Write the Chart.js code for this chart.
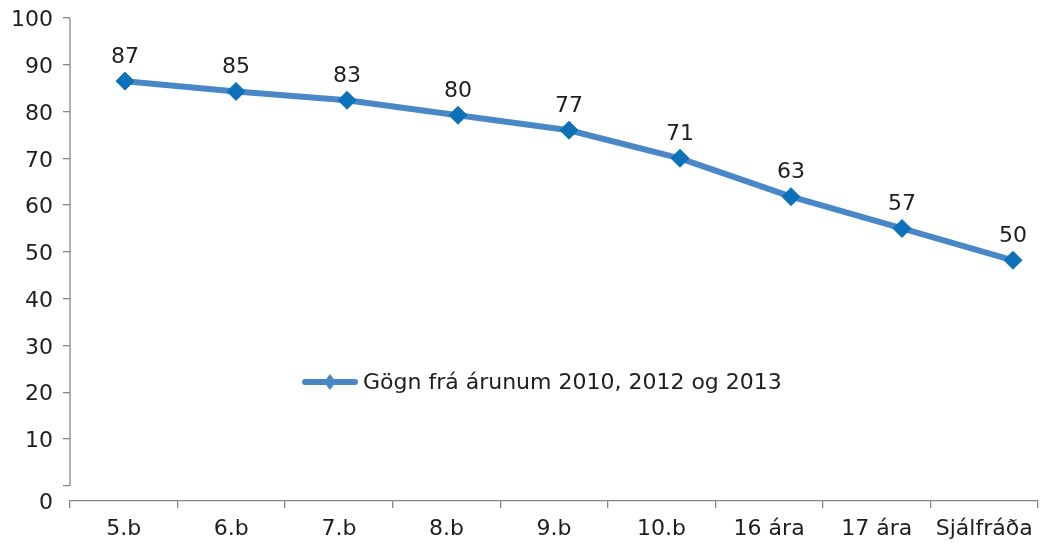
<!DOCTYPE html>
<html>
<head>
<meta charset="utf-8">
<script src="https://cdn.jsdelivr.net/npm/chart.js@4/dist/chart.umd.min.js"></script>
<style>
  html, body { margin: 0; padding: 0; background: #ffffff; }
  #wrap { width: 1043px; height: 547px; }
</style>
</head>
<body>
<div id="wrap"><canvas id="c" width="1043" height="547"></canvas></div>
<script>
// ---- data ----
const categories = ['5.b', '6.b', '7.b', '8.b', '9.b', '10.b', '16 ára', '17 ára', 'Sjálfráða'];
const seriesName = 'Gögn frá árunum 2010, 2012 og 2013';
const seriesValues = [86.5, 84.3, 82.4, 79.2, 76.0, 70.0, 61.8, 55.0, 48.2];
const valueLabels = ['87', '85', '83', '80', '77', '71', '63', '57', '50'];
const yTickValues = [0, 10, 20, 30, 40, 50, 60, 70, 80, 90, 100];

const FONT = '"DejaVu Sans", "Liberation Sans", sans-serif';
const TEXT = '#1e1e1e';
const AXIS = '#868686';
const LINE = '#4a87c6';
const MARK = '#0c71b8';
const Y_BOTTOM = -3.27;   // x-axis sits slightly below the 0 tick

const pts = seriesValues.map((v, i) => ({ x: i, y: v }));

const overlay = {
  id: 'overlay',
  afterDatasetsDraw(chart) {
    const ctx = chart.ctx;
    const y = chart.scales.y;
    // y axis line (stops at 0)
    ctx.save();
    ctx.strokeStyle = AXIS;
    ctx.lineWidth = 1.3;
    ctx.beginPath();
    ctx.moveTo(chart.chartArea.left, y.getPixelForValue(0));
    ctx.lineTo(chart.chartArea.left, y.getPixelForValue(100));
    ctx.stroke();
    // value labels
    const meta = chart.getDatasetMeta(0);
    ctx.font = '22px ' + FONT;
    ctx.fillStyle = TEXT;
    ctx.textAlign = 'center';
    ctx.textBaseline = 'middle';
    meta.data.forEach((p, i) => {
      ctx.fillText(valueLabels[i], p.x, p.y - 24);
    });
    // legend
    const lx = 305, ly = 382;
    ctx.strokeStyle = LINE;
    ctx.lineWidth = 6;
    ctx.lineCap = 'round';
    ctx.beginPath();
    ctx.moveTo(lx, ly);
    ctx.lineTo(lx + 50, ly);
    ctx.stroke();
    ctx.fillStyle = LINE;
    ctx.beginPath();
    ctx.moveTo(lx + 25, ly - 8);
    ctx.lineTo(lx + 31, ly);
    ctx.lineTo(lx + 25, ly + 8);
    ctx.lineTo(lx + 19, ly);
    ctx.closePath();
    ctx.fill();
    ctx.fillStyle = TEXT;
    ctx.textAlign = 'left';
    ctx.fillText(chart.data.datasets[0].label, lx + 58, ly + 1);
    ctx.restore();
  }
};

new Chart(document.getElementById('c'), {
  type: 'line',
  data: {
    labels: categories,
    datasets: [{
      label: seriesName,
      data: pts,
      xAxisID: 'x2',
      borderColor: LINE,
      borderWidth: 6,
      borderCapStyle: 'round',
      borderJoinStyle: 'round',
      tension: 0,
      pointStyle: 'rectRot',
      pointRadius: 9,
      pointBackgroundColor: MARK,
      pointBorderColor: MARK,
      pointBorderWidth: 1,
      fill: false
    }]
  },
  options: {
    responsive: false,
    animation: false,
    devicePixelRatio: 1,
    layout: { autoPadding: false, padding: { top: 18, right: 5, left: 0, bottom: 0 } },
    plugins: { legend: { display: false }, tooltip: { enabled: false } },
    scales: {
      x: {
        type: 'category',
        offset: true,
        grid: { offset: true, drawOnChartArea: false, tickLength: 7, color: AXIS, lineWidth: 1.3 },
        border: { display: true, color: AXIS, width: 1.3 },
        ticks: { color: TEXT, font: { family: FONT, size: 22 }, padding: 8, maxRotation: 0, autoSkip: false },
        afterFit(s) { s.height = 46; }
      },
      x2: {
        type: 'linear',
        display: false,
        min: -0.4955,
        max: 8.2252
      },
      y: {
        min: Y_BOTTOM,
        max: 100,
        afterBuildTicks(s) {
          s.ticks = [{ value: Y_BOTTOM }].concat(yTickValues.map(v => ({ value: v })));
        },
        grid: {
          drawOnChartArea: false,
          tickLength: 7,
          lineWidth: 1.3,
          color: (c) => (c.tick && c.tick.value === Y_BOTTOM) ? 'rgba(0,0,0,0)' : AXIS
        },
        border: { display: false },
        ticks: {
          color: TEXT,
          font: { family: FONT, size: 22, lineHeight: 0.5 },
          padding: 10,
          labelOffset: 2.5,
          callback: (v) => v === Y_BOTTOM ? '0' : (v === 0 ? '' : String(v))
        },
        afterFit(s) { s.width = 70; }
      }
    }
  },
  plugins: [overlay]
});
</script>
</body>
</html>
